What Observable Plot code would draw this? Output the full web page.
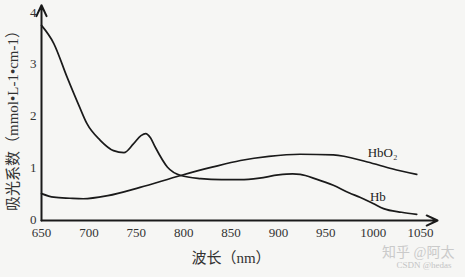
<!DOCTYPE html>
<html><head><meta charset="utf-8">
<script src="https://cdn.jsdelivr.net/npm/d3@7"></script>
<script src="https://cdn.jsdelivr.net/npm/@observablehq/plot@0.6"></script>
<style>
body{margin:0;background:#f6f6f4;}
svg{background:#f6f6f4;}
</style></head><body>
<div id="chart"></div>
<script>
const hbX = [650,663,677,690,698,712,726,737,747,755,760,765,770,783,797,818,840,860,880,900,915,923,940,958,975,986,1000,1011,1030,1046];
const hbY = [3.77,3.42,2.77,2.2,1.87,1.55,1.35,1.31,1.48,1.64,1.68,1.6,1.42,1.03,0.87,0.81,0.79,0.79,0.82,0.88,0.9,0.89,0.8,0.68,0.53,0.45,0.33,0.23,0.16,0.12];
const hbo2X = [650,663,680,694,720,754,797,830,860,890,923,958,994,1020,1046];
const hbo2Y = [0.52,0.45,0.43,0.42,0.48,0.64,0.87,1.03,1.16,1.24,1.28,1.27,1.13,1.0,0.89];
const xTicks = [650,700,750,800,850,900,950,1000,1050];
const yTicks = [0,1,2,3,4];
const seriesLabels = [{x:1010,y:1.28,t:"HbO₂"},{x:1005,y:0.44,t:"Hb"}];
const xTitle = "波长（nm）";
const yTitle = "吸光系数（mmol•L-1•cm-1）";
const watermark1 = "知乎 @阿太";
const watermark2 = "CSDN @hedas";

const hb = hbX.map((x,i)=>({x, y: hbY[i]}));
const hbo2 = hbo2X.map((x,i)=>({x, y: hbo2Y[i]}));
const ink = "#1a1a1a";
const font = "'Liberation Serif','Noto Sans CJK SC',serif";

const chart = Plot.plot({
  width: 465, height: 277,
  marginLeft: 41, marginRight: 45, marginTop: 13, marginBottom: 57,
  style: {fontFamily: font, fontSize: "13px", color: "#333", background: "#f6f6f4"},
  x: {domain: [650,1050]},
  y: {domain: [0,4]},
  marks: [
    Plot.axisX({ticks: xTicks, tickFormat: d => String(d), tickSize: 0, tickPadding: 7, fontSize: 13, label: xTitle, labelAnchor: "center", labelArrow: "none", labelOffset: 42, fill: "#333"}),
    Plot.axisY({ticks: yTicks, tickFormat: d => String(d), tickSize: 0, tickPadding: 5, dy: -1, fontSize: 13, label: yTitle, labelAnchor: "center", labelArrow: "none", labelOffset: 34, fill: "#333"}),
    Plot.arrow([{x1:650,y1:0,x2:1068,y2:0}], {x1:"x1",y1:"y1",x2:"x2",y2:"y2", stroke: ink, strokeWidth: 2, headLength: 9, headAngle: 50, clip: false}),
    Plot.arrow([{x1:650,y1:0,x2:650,y2:4.16}], {x1:"x1",y1:"y1",x2:"x2",y2:"y2", stroke: ink, strokeWidth: 2, headLength: 9, headAngle: 50, clip: false}),
    Plot.line(hb, {x:"x", y:"y", curve:"monotone-x", stroke: ink, strokeWidth: 1.7}),
    Plot.line(hbo2, {x:"x", y:"y", curve:"monotone-x", stroke: ink, strokeWidth: 1.7}),
    Plot.text(seriesLabels, {x:"x", y:"y", text:"t", fontSize: 13, fill: "#222", dy: -1}),
    Plot.text([watermark1], {frameAnchor: "bottom-right", dx: 34, dy: 36, fontSize: 14, fill: "#cacaca"}),
    Plot.text([watermark2], {frameAnchor: "bottom-right", dx: 31, dy: 47, fontSize: 9, fill: "#c4c4c4"})
  ]
});
chart.querySelectorAll("g[aria-label='x-axis label'] text, g[aria-label='y-axis label'] text").forEach(t=>t.style.fontSize="15px");
document.getElementById("chart").append(chart);
</script>
</body></html>
